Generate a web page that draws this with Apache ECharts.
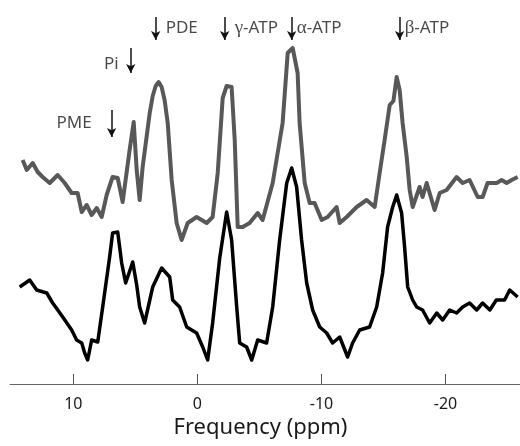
<!DOCTYPE html>
<html>
<head>
<meta charset="utf-8">
<script src="https://cdn.jsdelivr.net/npm/echarts@6/dist/echarts.min.js"></script>
<style>html,body{margin:0;padding:0;background:#fff;}#c{width:520px;height:446px;}</style>
</head>
<body>
<div id="c"></div>
<script>
// Upper (gray) spectrum: chemical shift (ppm) and intensity (arbitrary units)
const grayPpm = [14.08,13.75,13.27,12.87,12.47,11.90,11.26,10.69,10.13,9.65,9.32,8.92,8.52,8.11,7.71,7.31,6.83,6.42,6.02,5.86,5.46,5.13,4.89,4.65,4.41,3.84,3.60,3.36,3.12,2.88,2.64,2.39,2.07,1.67,1.27,0.78,0.06,-0.75,-1.23,-1.64,-2.04,-2.36,-2.76,-3.01,-3.25,-3.65,-4.21,-4.86,-5.26,-6.07,-6.87,-7.28,-7.68,-8.08,-8.24,-8.65,-9.05,-9.45,-10.02,-10.50,-11.22,-11.47,-12.03,-12.84,-13.64,-14.29,-14.69,-15.09,-15.50,-15.80,-16.06,-16.30,-16.54,-16.87,-17.11,-17.35,-17.91,-18.15,-18.48,-19.12,-19.53,-20.09,-20.89,-21.38,-21.94,-22.59,-22.99,-23.39,-24.12,-24.52,-24.92,-25.33,-25.81];
const grayValues = [224,214,221,212,207,201,209,201,191,191,172,179,169,176,167,189,207,206,182,181,234,262,214,184,217,271,288,298,302,297,284,261,204,161,144,161,167,161,167,211,286,298,297,244,157,157,161,171,164,201,261,331,336,311,261,201,181,181,164,167,177,161,167,177,184,177,211,244,279,283,307,294,261,227,194,177,197,187,201,174,191,194,207,201,204,187,187,201,201,204,201,204,207];

// Lower (black) spectrum
const blackPpm = [14.32,13.51,12.95,12.14,11.66,10.85,10.13,9.73,9.32,9.08,8.84,8.52,8.03,7.63,7.07,6.83,6.42,6.10,5.78,5.21,4.89,4.65,4.25,3.60,2.88,2.23,1.99,1.43,0.86,0.06,-0.43,-0.83,-1.23,-1.80,-2.36,-2.76,-3.17,-3.41,-3.97,-4.38,-4.86,-5.58,-6.07,-6.63,-7.20,-7.60,-8.00,-8.40,-8.81,-9.29,-9.86,-10.42,-10.90,-11.47,-12.11,-12.51,-13.08,-13.88,-14.45,-14.93,-15.33,-15.74,-16.06,-16.46,-16.70,-16.95,-17.35,-17.67,-18.15,-18.72,-19.29,-19.77,-20.33,-20.89,-21.38,-21.94,-22.51,-22.99,-23.57,-24.09,-24.76,-25.17,-25.81];
const blackValues = [97,104,94,91,81,67,54,44,41,31,24,44,42,77,127,151,152,121,101,122,99,77,61,97,116,107,84,77,57,51,37,24,61,126,172,144,77,41,37,24,44,41,77,144,201,216,197,144,101,74,57,51,41,47,27,41,54,57,77,111,157,177,189,171,137,97,84,77,74,61,71,64,74,71,77,81,74,81,74,84,84,94,87];

// Axis tick labels
const xTicks = [10, 0, -10, -20];

// Peak annotations
const peakNames = ['PME', 'Pi', 'PDE', 'γ-ATP', 'α-ATP', 'β-ATP'];
const arrowPpm = [6.91, 5.37, 3.36, -2.20, -7.60, -16.30];
const arrowTop = [274, 336, 367, 367, 367, 367];
const arrowBottom = [247, 311, 344, 344, 344, 344];

// styling of annotation labels (side and gap)
const labelStyle = [
  {side: 'left', gap: 20, dy: 0},
  {side: 'left', gap: 12, dy: 4},
  {side: 'right', gap: 10, dy: 0},
  {side: 'right', gap: 10, dy: 0},
  {side: 'right', gap: 5, dy: 0},
  {side: 'right', gap: 5, dy: 0}
];

function zip(a, b) { return a.map((v, i) => [v, b[i]]); }

function richName(n) {
  const g = n.charAt(0);
  if ('γαβ'.indexOf(g) >= 0) return '{g|' + g + '}' + n.slice(1);
  return n;
}

const FONT = 'Noto Sans';
const chart = echarts.init(document.getElementById('c'), null, {renderer: 'canvas'});

const labelData = peakNames.map((n, i) => ({
  value: [arrowPpm[i], (arrowTop[i] + arrowBottom[i]) / 2],
  name: n,
  label: {
    show: true,
    position: labelStyle[i].side,
    distance: labelStyle[i].gap,
    offset: [0, labelStyle[i].dy],
    formatter: richName(n)
  }
}));

const arrowLines = peakNames.map((n, i) => [
  {coord: [arrowPpm[i], arrowTop[i]]},
  {coord: [arrowPpm[i], arrowBottom[i]]}
]);

chart.setOption({
  animation: false,
  backgroundColor: '#fff',
  grid: {left: 10, right: 0, top: 0, bottom: 62},
  xAxis: {
    type: 'value',
    inverse: true,
    min: -26,
    max: 15.1,
    name: 'Frequency (ppm)',
    nameLocation: 'middle',
    nameGap: 27,
    nameTextStyle: {fontFamily: FONT, fontSize: 22, color: '#1a1a1a', padding: [0, 9, 0, 0]},
    axisLine: {lineStyle: {color: '#666', width: 1}},
    axisTick: {show: true, inside: true, length: 10, customValues: xTicks, lineStyle: {color: '#555'}},
    axisLabel: {customValues: xTicks, margin: 12, fontFamily: FONT, fontSize: 16, color: '#1a1a1a'},
    splitLine: {show: false}
  },
  yAxis: {
    type: 'value', min: 0, max: 384, show: false
  },
  series: [
    {
      type: 'line', name: 'upper', data: zip(grayPpm, grayValues),
      showSymbol: false, symbol: 'none',
      lineStyle: {color: '#585858', width: 4, join: 'round'},
      silent: true, z: 2
    },
    {
      type: 'line', name: 'lower', data: zip(blackPpm, blackValues),
      showSymbol: false, symbol: 'none',
      lineStyle: {color: '#000', width: 3.5, join: 'round'},
      silent: true, z: 3
    },
    {
      type: 'scatter', name: 'labels', data: labelData,
      symbolSize: 0, silent: true,
      label: {
        fontFamily: FONT, fontSize: 17, color: '#1a1a1a',
        rich: {g: {fontFamily: 'Liberation Serif', fontSize: 19, color: '#1a1a1a'}}
      },
      markLine: {
        silent: true,
        symbol: ['none', 'arrow'],
        symbolSize: [7, 9],
        label: {show: false},
        lineStyle: {color: '#111', width: 1.5, type: 'solid'},
        data: arrowLines
      }
    }
  ]
});
</script>
</body>
</html>
